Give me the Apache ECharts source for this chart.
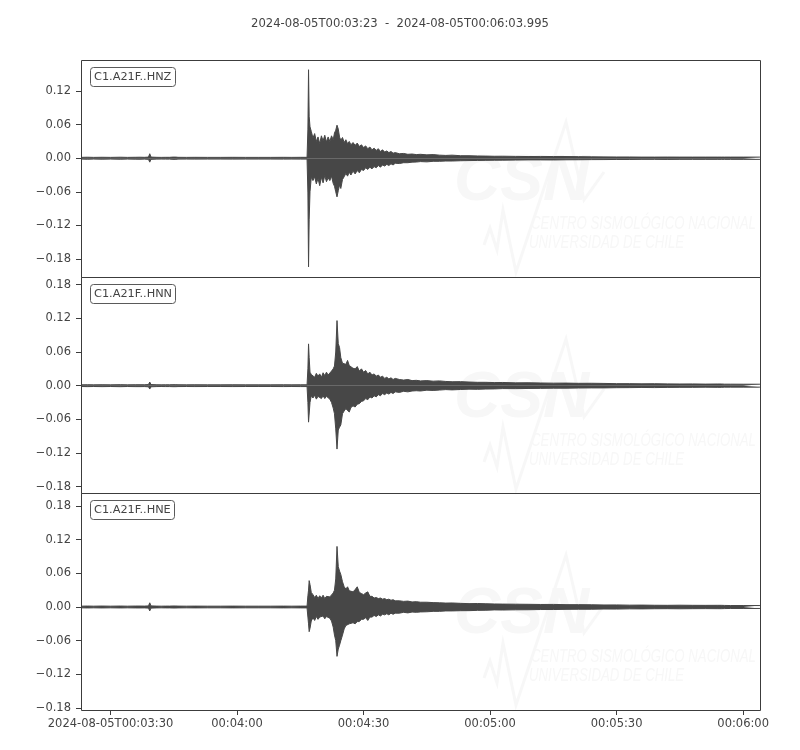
<!DOCTYPE html>
<html>
<head>
<meta charset="utf-8">
<script src="https://cdn.jsdelivr.net/npm/echarts@6/dist/echarts.min.js"></script>
<style>html,body{margin:0;padding:0;background:#fff}#c{width:800px;height:750px}</style>
</head>
<body>
<div id="c"></div>
<script>
// seconds since 2024-08-05T00:03:23
const secs = [
  0, 1.5, 3, 5, 7, 9.3, 11, 13, 14, 15,
  16.0, 16.3, 16.6, 17, 18, 19, 20, 21.0, 21.4, 21.8,
  22.1, 22.5, 23, 25, 27, 30, 33, 36, 39, 42,
  45, 48, 50, 52, 53.6, 53.8, 53.95, 54.1, 54.3, 54.6,
  55.0, 55.4, 55.8, 56.2, 56.6, 57.0, 57.4, 57.8, 58.2, 58.6,
  59.0, 59.4, 59.8, 60.1, 60.4, 60.7, 61.0, 61.3, 61.6, 62.0,
  62.4, 62.8, 63.2, 63.6, 64.0, 64.5, 65.0, 65.5, 66.0, 66.5,
  67.0, 67.5, 68.0, 68.5, 69.0, 69.5, 70.0, 70.5, 71.0, 71.5,
  72.0, 72.5, 73.0, 73.5, 74.0, 74.5, 75.5, 76.5, 77.5, 78.5,
  79.5, 80.5, 82, 83.5, 85, 86.5, 88, 90, 92, 94,
  96, 98, 100, 103, 106, 109, 112, 115, 118, 121,
  124, 127, 130, 133, 136, 139, 142, 145, 148, 151,
  151.8, 152.2, 152.6, 154, 157, 160.99
];
// HNZ envelope
const upZ = [
  0.0015, 0.0018, 0.0015, 0.0017, 0.0015, 0.0018, 0.0015, 0.0017, 0.0018, 0.0016,
  0.002, 0.008, 0.002, 0.0016, 0.0016, 0.0015, 0.0016, 0.0016, 0.0045, 0.002,
  0.0045, 0.002, 0.0016, 0.0015, 0.0016, 0.0015, 0.0015, 0.0016, 0.0015, 0.0015,
  0.0015, 0.0016, 0.0015, 0.0016, 0.0016, 0.052, 0.158, 0.075, 0.056, 0.048,
  0.036, 0.044, 0.03, 0.038, 0.026, 0.04, 0.031, 0.041, 0.029, 0.038,
  0.03, 0.04, 0.033, 0.045, 0.05, 0.059, 0.052, 0.038, 0.032, 0.037,
  0.028, 0.033, 0.026, 0.03, 0.024, 0.028, 0.023, 0.027, 0.021, 0.024,
  0.019, 0.022, 0.017, 0.02, 0.015, 0.018, 0.014, 0.017, 0.012, 0.015,
  0.011, 0.013, 0.01, 0.012, 0.009, 0.01, 0.008, 0.0085, 0.007, 0.0075,
  0.0065, 0.007, 0.006, 0.0065, 0.0055, 0.005, 0.0055, 0.0045, 0.0045, 0.004,
  0.0038, 0.0035, 0.0036, 0.0033, 0.003, 0.0032, 0.003, 0.003, 0.0028, 0.0025,
  0.0024, 0.0022, 0.0022, 0.002, 0.002, 0.0021, 0.002, 0.002, 0.002, 0.002,
  0.002, 0.0045, 0.002, 0.002, 0.002, 0.002
];
const loZ = [
  -0.0015, -0.0018, -0.0015, -0.0017, -0.0015, -0.0018, -0.0015, -0.0017, -0.0018, -0.0016,
  -0.002, -0.007, -0.002, -0.0016, -0.0016, -0.0015, -0.0016, -0.0016, -0.0045, -0.002,
  -0.0045, -0.002, -0.0016, -0.0015, -0.0016, -0.0015, -0.0015, -0.0016, -0.0015, -0.0015,
  -0.0015, -0.0016, -0.0015, -0.0016, -0.0016, -0.062, -0.194, -0.11, -0.06, -0.034,
  -0.04, -0.033, -0.046, -0.036, -0.049, -0.034, -0.044, -0.031, -0.042, -0.035,
  -0.04, -0.032, -0.045, -0.05, -0.06, -0.069, -0.058, -0.048, -0.054, -0.038,
  -0.033, -0.027, -0.032, -0.025, -0.03, -0.023, -0.028, -0.022, -0.026, -0.02,
  -0.022, -0.017, -0.02, -0.016, -0.019, -0.015, -0.017, -0.013, -0.016, -0.012,
  -0.014, -0.011, -0.013, -0.01, -0.012, -0.009, -0.0095, -0.008, -0.008, -0.007,
  -0.0068, -0.006, -0.0065, -0.0055, -0.0055, -0.005, -0.005, -0.0045, -0.0042, -0.004,
  -0.0038, -0.0036, -0.0035, -0.0033, -0.003, -0.003, -0.0031, -0.0028, -0.0027, -0.0025,
  -0.0024, -0.0022, -0.0022, -0.002, -0.002, -0.0021, -0.002, -0.002, -0.002, -0.002,
  -0.002, -0.004, -0.002, -0.002, -0.002, -0.002
];
// HNN envelope
const upN = [
  0.0015, 0.0017, 0.0015, 0.0017, 0.0015, 0.0018, 0.0015, 0.0017, 0.0017, 0.0016,
  0.002, 0.0065, 0.002, 0.0016, 0.0016, 0.0015, 0.0016, 0.0016, 0.003, 0.0018,
  0.003, 0.0018, 0.0016, 0.0015, 0.0016, 0.0015, 0.0015, 0.0016, 0.0015, 0.0015,
  0.0015, 0.0016, 0.0015, 0.0016, 0.0016, 0.03, 0.0745, 0.05, 0.024, 0.02,
  0.021, 0.015, 0.022, 0.017, 0.021, 0.015, 0.023, 0.018, 0.024, 0.019,
  0.022, 0.026, 0.03, 0.035, 0.06, 0.116, 0.075, 0.068, 0.05, 0.04,
  0.043, 0.038, 0.045, 0.036, 0.037, 0.031, 0.03, 0.034, 0.026, 0.03,
  0.024, 0.027, 0.021, 0.024, 0.019, 0.021, 0.017, 0.019, 0.015, 0.017,
  0.013, 0.015, 0.012, 0.014, 0.011, 0.013, 0.011, 0.01, 0.011, 0.009,
  0.0095, 0.0085, 0.009, 0.008, 0.0085, 0.0075, 0.007, 0.0072, 0.0065, 0.006,
  0.006, 0.0055, 0.0057, 0.005, 0.0052, 0.0048, 0.0045, 0.0046, 0.0042, 0.0043,
  0.004, 0.0036, 0.0036, 0.0033, 0.0035, 0.0032, 0.003, 0.0031, 0.0028, 0.003,
  0.003, 0.005, 0.0027, 0.0027, 0.0026, 0.0026
];
const loN = [
  -0.0015, -0.0017, -0.0015, -0.0017, -0.0015, -0.0018, -0.0015, -0.0017, -0.0017, -0.0016,
  -0.002, -0.006, -0.002, -0.0016, -0.0016, -0.0015, -0.0016, -0.0016, -0.003, -0.0018,
  -0.003, -0.0018, -0.0016, -0.0015, -0.0016, -0.0015, -0.0015, -0.0016, -0.0015, -0.0015,
  -0.0015, -0.0016, -0.0015, -0.0016, -0.0016, -0.03, -0.065, -0.063, -0.03, -0.018,
  -0.022, -0.017, -0.024, -0.019, -0.016, -0.023, -0.018, -0.023, -0.019, -0.017,
  -0.024, -0.03, -0.04, -0.05, -0.077, -0.113, -0.079, -0.074, -0.07, -0.05,
  -0.045, -0.041, -0.044, -0.047, -0.039, -0.036, -0.038, -0.033, -0.032, -0.028,
  -0.027, -0.023, -0.025, -0.02, -0.022, -0.018, -0.02, -0.016, -0.018, -0.014,
  -0.016, -0.013, -0.015, -0.012, -0.014, -0.011, -0.012, -0.01, -0.011, -0.0095,
  -0.009, -0.0095, -0.008, -0.0085, -0.0078, -0.007, -0.0075, -0.0068, -0.0062, -0.0065,
  -0.006, -0.0058, -0.0052, -0.0053, -0.005, -0.0048, -0.0045, -0.0045, -0.0042, -0.004,
  -0.004, -0.0036, -0.0035, -0.0032, -0.0034, -0.0031, -0.003, -0.003, -0.0027, -0.003,
  -0.003, -0.005, -0.0026, -0.0026, -0.0026, -0.0026
];
// HNE envelope
const upE = [
  0.0015, 0.0017, 0.0015, 0.0017, 0.0015, 0.0017, 0.0015, 0.0017, 0.0017, 0.0016,
  0.002, 0.0075, 0.002, 0.0016, 0.0016, 0.0015, 0.0016, 0.0016, 0.004, 0.0018,
  0.004, 0.0018, 0.0016, 0.0015, 0.0016, 0.0015, 0.0015, 0.0016, 0.0015, 0.0015,
  0.0015, 0.0016, 0.0015, 0.0016, 0.0016, 0.02, 0.03, 0.047, 0.04, 0.026,
  0.022, 0.017, 0.021, 0.015, 0.02, 0.016, 0.021, 0.015, 0.019, 0.016,
  0.018, 0.02, 0.025, 0.03, 0.05, 0.108, 0.072, 0.064, 0.058, 0.045,
  0.036, 0.032, 0.036, 0.029, 0.03, 0.027, 0.031, 0.036, 0.026, 0.024,
  0.022, 0.025, 0.027, 0.019, 0.019, 0.016, 0.017, 0.015, 0.016, 0.014,
  0.015, 0.013, 0.014, 0.012, 0.013, 0.011, 0.011, 0.01, 0.0105, 0.009,
  0.0095, 0.0085, 0.0085, 0.0078, 0.0075, 0.007, 0.0072, 0.0065, 0.006, 0.0062,
  0.0058, 0.0054, 0.0052, 0.005, 0.0048, 0.0045, 0.0046, 0.0042, 0.0042, 0.004,
  0.0036, 0.0037, 0.0033, 0.0034, 0.0031, 0.003, 0.0032, 0.003, 0.0029, 0.003,
  0.003, 0.0045, 0.0028, 0.0026, 0.0026, 0.0026
];
const loE = [
  -0.0015, -0.0017, -0.0015, -0.0017, -0.0015, -0.0017, -0.0015, -0.0017, -0.0017, -0.0016,
  -0.002, -0.007, -0.002, -0.0016, -0.0016, -0.0015, -0.0016, -0.0016, -0.004, -0.0018,
  -0.004, -0.0018, -0.0016, -0.0015, -0.0016, -0.0015, -0.0015, -0.0016, -0.0015, -0.0015,
  -0.0015, -0.0016, -0.0015, -0.0016, -0.0016, -0.018, -0.03, -0.044, -0.038, -0.025,
  -0.019, -0.024, -0.017, -0.022, -0.018, -0.021, -0.016, -0.021, -0.017, -0.02,
  -0.02, -0.025, -0.036, -0.05, -0.06, -0.088, -0.075, -0.068, -0.06, -0.05,
  -0.039, -0.033, -0.035, -0.03, -0.031, -0.028, -0.03, -0.026, -0.026, -0.022,
  -0.022, -0.019, -0.024, -0.018, -0.018, -0.015, -0.017, -0.014, -0.016, -0.013,
  -0.014, -0.012, -0.014, -0.011, -0.013, -0.011, -0.011, -0.0095, -0.0105, -0.009,
  -0.0095, -0.0088, -0.0085, -0.0078, -0.0078, -0.007, -0.007, -0.0066, -0.0065, -0.006,
  -0.0058, -0.0052, -0.0054, -0.005, -0.0049, -0.0045, -0.0045, -0.0042, -0.004, -0.004,
  -0.0036, -0.0037, -0.0033, -0.0034, -0.0031, -0.003, -0.0032, -0.003, -0.0029, -0.003,
  -0.003, -0.004, -0.0028, -0.0026, -0.0026, -0.0026
];
const channels = ['C1.A21F..HNZ', 'C1.A21F..HNN', 'C1.A21F..HNE'];
const xTicks = [7, 37, 67, 97, 127, 157];
const yTicksZ = [-0.18, -0.12, -0.06, 0, 0.06, 0.12];
const yTicksNE = [-0.18, -0.12, -0.06, 0, 0.06, 0.12, 0.18];
const yRanges = [[-0.2121, 0.1754], [-0.1913, 0.1937], [-0.1836, 0.2032]];
const titleText = '2024-08-05T00:03:23  -  2024-08-05T00:06:03.995';

const FONT = 'DejaVu Sans';
const TXT = '#444444';
const LINE = '#3c3c3c';
const TRACE = '#474747';
const grids = [
  {left: 81, width: 679, top: 60, height: 217},
  {left: 81, width: 679, top: 277, height: 216},
  {left: 81, width: 679, top: 493, height: 217}
];
const pad = n => (n < 10 ? '0' : '') + n;
function xLabel(v) {
  const s = 3 * 60 + 23 + Math.round(v);
  const hms = '00:' + pad(Math.floor(s / 60)) + ':' + pad(s % 60);
  return Math.round(v) === 7 ? '2024-08-05T' + hms : hms;
}
function yLabel(v) {
  const r = Math.round(v * 100) / 100;
  const s = Math.abs(r).toFixed(2);
  return r < 0 ? '\u2212' + s : s;
}
const envs = [[upZ, loZ], [upN, loN], [upE, loE]];
const series = [];
envs.forEach((pair, gi) => {
  pair.forEach(arr => {
    series.push({
      type: 'line', xAxisIndex: gi, yAxisIndex: gi,
      data: secs.map((t, k) => [t, arr[k]]),
      showSymbol: false, symbol: 'none', smooth: false,
      lineStyle: {color: TRACE, width: 1},
      areaStyle: {color: TRACE, opacity: 1, origin: 'auto'},
      silent: true, animation: false, z: 3
    });
  });
});
const xAxes = grids.map((g, i) => ({
  type: 'value', gridIndex: i, min: 0, max: 160.995, position: 'bottom',
  axisLine: {show: false, onZero: false},
  splitLine: {show: false},
  axisTick: {show: i === 2, customValues: xTicks, length: 5, inside: false, lineStyle: {color: LINE, width: 1}},
  axisLabel: {show: i === 2, customValues: xTicks, formatter: xLabel, margin: 8,
    color: TXT, fontFamily: FONT, fontSize: 11.5}
}));
const yAxes = grids.map((g, i) => {
  const ticks = i === 0 ? yTicksZ : yTicksNE;
  return {
    type: 'value', gridIndex: i, min: yRanges[i][0], max: yRanges[i][1], position: 'left',
    axisLine: {show: false, onZero: false},
    splitLine: {show: false},
    axisTick: {show: true, customValues: ticks, length: 5, lineStyle: {color: LINE, width: 1}},
    axisLabel: {customValues: ticks, formatter: yLabel, margin: 10,
      color: TXT, fontFamily: FONT, fontSize: 11.5}
  };
});
const titles = [{
  text: titleText, left: 'center', top: 13,
  textStyle: {fontFamily: FONT, fontSize: 11.6, fontWeight: 'normal', color: TXT}
}];
channels.forEach((c, i) => {
  titles.push({
    text: c, left: 90, top: grids[i].top + 7,
    padding: [3, 4, 3, 4], borderWidth: 1, borderColor: '#5a5a5a', borderRadius: 3,
    textStyle: {fontFamily: FONT, fontSize: 11.3, fontWeight: 'normal', color: TXT, lineHeight: 14}
  });
});
function watermark(top) {
  const wc = '#f7f7f7';
  return {
    type: 'group', x: 0, y: top - 60, silent: true, z: -10,
    children: [
      {type: 'polyline', shape: {points: [[484, 245], [490, 228], [497, 250], [503, 210], [516, 272], [566, 122], [584, 200], [604, 172]]},
        style: {stroke: wc, lineWidth: 3, fill: null}},
      {type: 'text', x: 454, y: 150, style: {text: 'CSN', fontFamily: 'Liberation Sans', fontStyle: 'italic', fontWeight: 'bold', fontSize: 64, fill: wc}},
      {type: 'text', x: 531, y: 215, scaleX: 0.735, originX: 0, style: {text: 'CENTRO SISMOLÓGICO NACIONAL', fontFamily: 'Liberation Sans', fontStyle: 'italic', fontSize: 18, fill: wc}},
      {type: 'text', x: 529, y: 234, scaleX: 0.735, originX: 0, style: {text: 'UNIVERSIDAD DE CHILE', fontFamily: 'Liberation Sans', fontStyle: 'italic', fontSize: 18, fill: wc}}
    ]
  };
}
const frames = grids.map(g => ({
  type: 'rect', silent: true, z: 50,
  shape: {x: g.left + 0.5, y: g.top + 0.5, width: g.width, height: g.height},
  style: {fill: null, stroke: LINE, lineWidth: 1}
}));
const chart = echarts.init(document.getElementById('c'), null, {renderer: 'canvas'});
chart.setOption({
  backgroundColor: '#ffffff',
  animation: false,
  title: titles,
  grid: grids,
  xAxis: xAxes,
  yAxis: yAxes,
  series: series,
  graphic: grids.map(g => watermark(g.top)).concat(frames)
});
</script>
</body>
</html>
